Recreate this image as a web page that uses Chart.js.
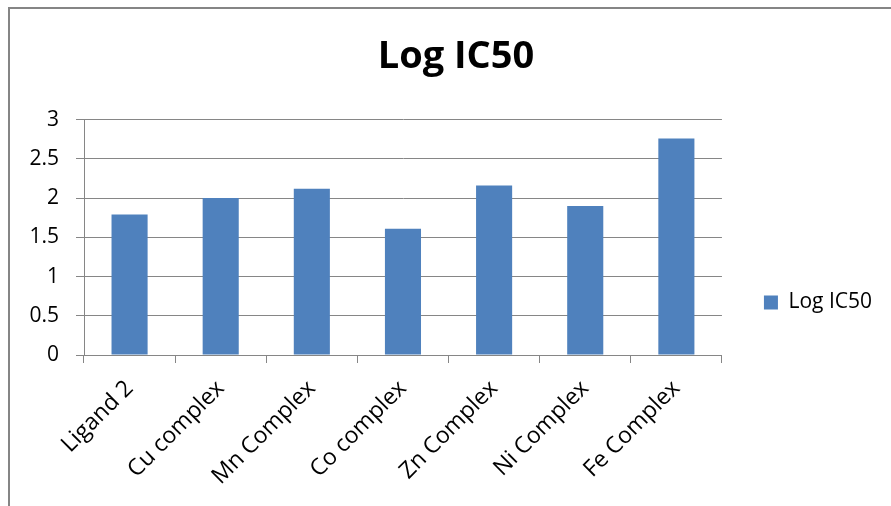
<!DOCTYPE html>
<html>
<head>
<meta charset="utf-8">
<title>Log IC50</title>
<script src="https://cdn.jsdelivr.net/npm/chart.js@4/dist/chart.umd.min.js"></script>
<style>
  html, body { margin: 0; padding: 0; background: #ffffff; overflow: hidden; }
  #wrap { position: relative; width: 891px; height: 506px; }
  #frame {
    position: absolute; left: 8px; top: 7px; width: 900px; height: 520px;
    border-left: 2px solid #858585; border-top: 2px solid #858585;
    pointer-events: none;
  }
  canvas { position: absolute; left: 0; top: 0; }
</style>
</head>
<body>
<div id="wrap">
  <div id="frame"></div>
  <canvas id="chart" width="891" height="506"></canvas>
</div>
<script>
// Compounds tested
const categories = ['Ligand 2', 'Cu complex', 'Mn Complex', 'Co complex', 'Zn Complex', 'Ni Complex', 'Fe Complex'];
// Log IC50 per compound
const logIC50 = [1.79, 2.0, 2.12, 1.61, 2.16, 1.9, 2.76];
// Value axis
const yMin = 0;
const yMax = 3;
const yStep = 0.5;

const FONT = "'Open Sans', 'Liberation Sans', sans-serif";
const GRID = '#868686';

new Chart(document.getElementById('chart'), {
  type: 'bar',
  data: {
    labels: categories,
    datasets: [{
      label: 'Log IC50',
      data: logIC50,
      backgroundColor: '#4F81BD',
      borderWidth: 0,
      categoryPercentage: 1.0,
      barPercentage: 0.396
    }]
  },
  options: {
    responsive: false,
    animation: false,
    devicePixelRatio: 1,
    layout: { padding: { left: 30, right: 9, top: 0, bottom: 0 } },
    plugins: {
      title: {
        display: true,
        text: 'Log IC50',
        color: '#000000',
        font: { family: FONT, size: 38, weight: 'bold' },
        padding: { top: 34, bottom: 40 }
      },
      legend: {
        position: 'right',
        align: 'end',
        fullSize: false,
        labels: {
          color: '#000000',
          font: { family: FONT, size: 21 },
          boxWidth: 14,
          boxHeight: 14,
          padding: 42
        }
      },
      tooltip: { enabled: false }
    },
    scales: {
      x: {
        offset: true,
        grid: {
          offset: true,
          drawOnChartArea: false,
          drawTicks: true,
          tickLength: 8,
          color: GRID
        },
        border: { color: GRID, width: 1 },
        ticks: {
          color: '#000000',
          font: { family: FONT, size: 23 },
          minRotation: 45,
          maxRotation: 45,
          padding: 12
        },
        afterFit: (scale) => { scale.height = 151; }
      },
      y: {
        min: yMin,
        max: yMax,
        grid: { color: GRID, tickLength: 8 },
        border: { color: GRID, width: 1 },
        ticks: {
          stepSize: yStep,
          color: '#000000',
          font: { family: FONT, size: 21 },
          padding: 17,
          callback: (value) => String(Number(value))
        },
        afterFit: (scale) => { scale.width = 54; }
      }
    }
  }
});
</script>
</body>
</html>
